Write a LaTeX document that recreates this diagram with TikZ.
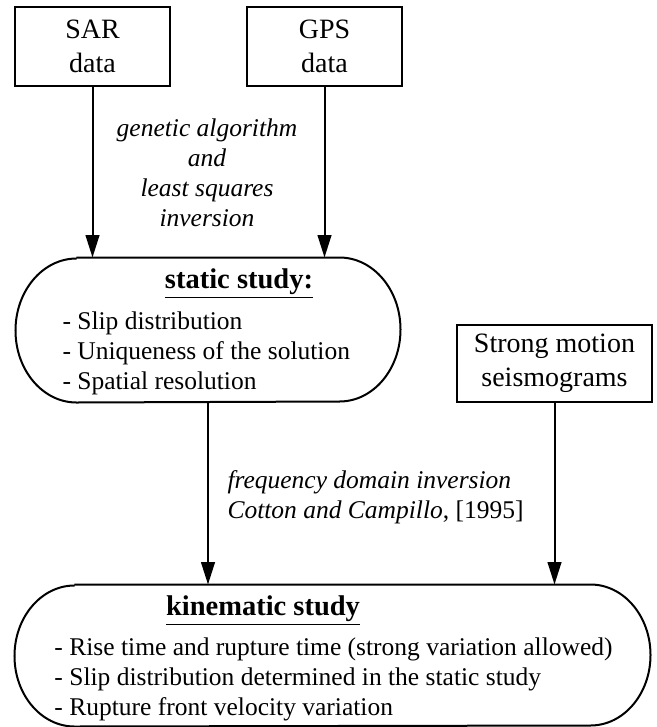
\documentclass[tikz,border=0pt]{standalone}
\usepackage{fontspec}
\setmainfont{Liberation Serif}
\usetikzlibrary{arrows.meta}

\begin{document}
\begin{tikzpicture}[x=0.4pt,y=-0.4pt,
    databox/.style={draw,line width=0.8pt,align=center,font=\fontsize{11.2}{13.5}\selectfont},
    studybox/.style={inner sep=0pt},
    outline/.style={line width=0.8pt},
    flow/.style={line width=0.8pt,-{Triangle[length=9pt,width=5.5pt]}},
    txt/.style={font=\fontsize{10.2}{12}\selectfont},
    title/.style={font=\fontsize{11.4}{13}\selectfont\bfseries}]
    \tikzstyle{every node}+=[inner sep=0pt]
    \useasboundingbox (0,0) rectangle (657,727);
    % data boxes
    \node [databox,minimum width=62pt,minimum height=31.6pt] (sar) at (92.5,46.5) {SAR\\data};
    \node [databox,minimum width=62pt,minimum height=31.6pt] (gps) at (324.5,46.5) {GPS\\data};
    \node [databox,minimum width=78pt,minimum height=30.8pt] (strong) at (554.5,363.5) {Strong motion\\seismograms};
    % static study
    \node [studybox,minimum width=153.6pt,minimum height=57.6pt] (static) at (208,330) {};
    \draw [outline] ([xshift=24.4pt]static.north west) -- ([xshift=-24.4pt]static.north east)
        arc [start angle=90,end angle=-90,x radius=24.4pt,y radius=28.8pt]
        -- ([xshift=24.4pt]static.south west)
        arc [start angle=270,end angle=90,x radius=24.4pt,y radius=28.8pt];
    \node [title] (statictitle) at (239,284) {\underline{static study:}};
    \node [txt,align=left,anchor=west] (staticlist) at (62,353) {- Slip distribution\\- Uniqueness of the solution\\- Spatial resolution};
    % kinematic study
    \node [studybox,minimum width=254pt,minimum height=56.4pt] (kin) at (332.5,655.5) {};
    \draw [outline] ([xshift=24pt]kin.north west) -- ([xshift=-24pt]kin.north east)
        arc [start angle=90,end angle=-90,x radius=24pt,y radius=28.2pt]
        -- ([xshift=24pt]kin.south west)
        arc [start angle=270,end angle=90,x radius=24pt,y radius=28.2pt];
    \node [title] (kintitle) at (263,611) {\underline{kinematic study}};
    \node [txt,align=left,anchor=west] (kinlist) at (54,679) {- Rise time and rupture time (strong variation allowed)\\- Slip distribution determined in the static study\\- Rupture front velocity variation};
    % methods
    \node [txt,align=center] (genetic) at (207,173) {\textit{genetic algorithm}\\\textit{and}\\\textit{least squares}\\\textit{inversion}};
    \node [txt,align=left,anchor=west] (freq) at (227,497) {\textit{frequency domain inversion}\\\textit{Cotton and Campillo}, [1995]};
    % connectors
    \draw [flow] (sar.south) -- (sar.south |- static.north);
    \draw [flow] (gps.south) -- (gps.south |- static.north);
    \draw [flow] (static.south) -- (static.south |- kin.north);
    \draw [flow] (strong.south) -- (strong.south |- kin.north);
\end{tikzpicture}
\end{document}
